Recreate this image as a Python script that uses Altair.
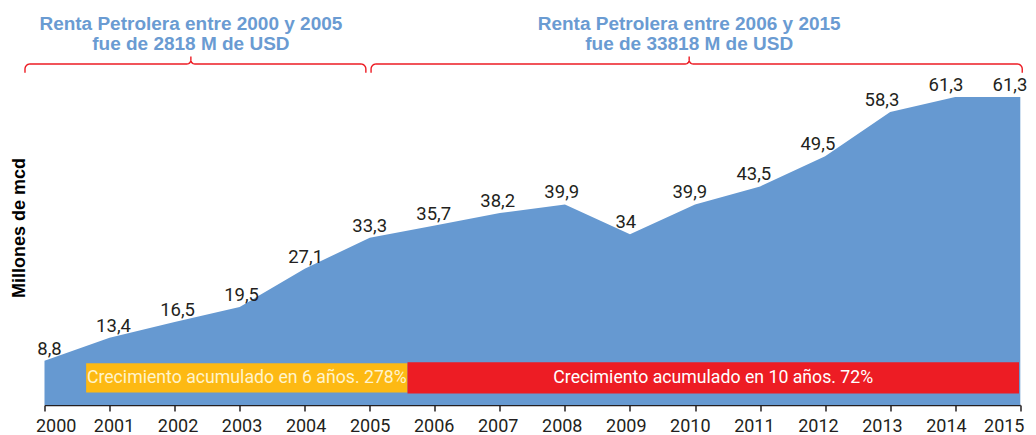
import altair as alt
import pandas as pd
import numpy as np

# ---------------- data ----------------
years = list(range(2000, 2016))
values = [8.8, 13.4, 16.5, 19.5, 27.1, 33.3, 35.7, 38.2, 39.9, 34.0,
          39.9, 43.5, 49.5, 58.3, 61.3, 61.3]
value_labels = ["8,8", "13,4", "16,5", "19,5", "27,1", "33,3", "35,7", "38,2",
                "39,9", "34", "39,9", "43,5", "49,5", "58,3", "61,3", "61,3"]

bar_start = [2000.64, 2005.58]
bar_end = [2005.58, 2014.98]
bar_low = [2.5, 2.3]
bar_high = [8.3, 8.5]
bar_colors = ["#FDB913", "#ED1C24"]
bar_texts = ["Crecimiento acumulado en 6 años. 278%",
             "Crecimiento acumulado en 10 años. 72%"]
bar_text_colors = ["#FFF4CC", "#FFFFFF"]

brace_start = [1999.70, 2005.02]
brace_end = [2004.94, 2015.03]
brace_tip = [2002.25, 2009.91]
brace_level = 67.85
header_texts = ["Renta Petrolera entre 2000 y 2005\nfue de 2818 M de USD",
                "Renta Petrolera entre 2006 y 2015\nfue de 33818 M de USD"]
header_level = 74.6

Y_TITLE = "Millones de mcd"

# ---------------- layout ----------------
W, H = 975.8, 392
XMIN, XMAX = 2000, 2015
YMAX = 78
kx = W / (XMAX - XMIN)   # px per year
ky = H / YMAX            # px per unit

FONT_N = "Roboto, DejaVu Sans Condensed, sans-serif"
FONT_B = "Liberation Sans, Arial, sans-serif"
AREA_BLUE = "#6699D1"
INK = "#231F20"

df = pd.DataFrame({"year": years, "value": values, "label": value_labels})
bars = pd.DataFrame({"x0": bar_start, "x1": bar_end, "y0": bar_low, "y1": bar_high,
                     "fill": bar_colors, "txt": bar_texts, "tcol": bar_text_colors})
bars["xm"] = (bars["x0"] + bars["x1"]) / 2
bars["ym"] = (bars["y0"] + bars["y1"]) / 2
heads = pd.DataFrame({"x": brace_tip, "y": [header_level] * 2, "txt": header_texts})


def brace_path(x0, x1, xm, yl, bid):
    """Curly-brace outline between x0 and x1 with its tip at xm (pixel-sized curls)."""
    r_end, drop, r_tip, rise = 5.0, 8.7, 4.0, 7.5
    pts = []
    X0, X1, XM = (x0 - XMIN) * kx, (x1 - XMIN) * kx, (xm - XMIN) * kx
    pts.append((X0, -drop))
    for t in np.linspace(np.pi, np.pi / 2, 8):
        pts.append((X0 + r_end + r_end * np.cos(t), -r_end + r_end * np.sin(t)))
    for t in np.linspace(-np.pi / 2, 0, 8):
        pts.append((XM - r_tip + r_tip * np.cos(t), r_tip + r_tip * np.sin(t)))
    pts.append((XM, rise))
    for t in np.linspace(np.pi, 1.5 * np.pi, 8):
        pts.append((XM + r_tip + r_tip * np.cos(t), r_tip + r_tip * np.sin(t)))
    for t in np.linspace(np.pi / 2, 0, 8):
        pts.append((X1 - r_end + r_end * np.cos(t), -r_end + r_end * np.sin(t)))
    pts.append((X1, -drop))
    return [{"bx": XMIN + px / kx, "by": yl + py / ky, "bid": bid, "o": i}
            for i, (px, py) in enumerate(pts)]


brace_rows = []
for i in range(len(brace_start)):
    brace_rows += brace_path(brace_start[i], brace_end[i], brace_tip[i], brace_level, i)
braces = pd.DataFrame(brace_rows)

xscale = alt.Scale(domain=[XMIN, XMAX], nice=False, zero=False)
yscale = alt.Scale(domain=[0, YMAX], nice=False, zero=True)
# labels (values and years) sit on a slightly tighter spacing than the vertices/ticks
label_scale = alt.Scale(domain=[1999.922, 2015.161], nice=False, zero=False)

X_AXIS = alt.Axis(values=years, format="d", grid=False, labels=False,
                  domainColor=INK, domainWidth=1.5,
                  tickColor=INK, tickWidth=1.5, tickSize=6)
LABEL_AXIS = alt.Axis(values=years, format="d", grid=False, orient="bottom",
                      domain=False, ticks=False, tickSize=0,
                      labelFont=FONT_N, labelFontSize=18, labelColor=INK,
                      labelPadding=13, labelFlush=12, labelFlushOffset=14)
Y_AXIS = alt.Axis(title=Y_TITLE, labels=False, ticks=False, domain=False, grid=False,
                  titleFont=FONT_B, titleFontSize=18, titleFontWeight="bold",
                  titleColor="#000000", titleAngle=270, titleX=-25, titleY=214.5,
                  titleAlign="center", titleBaseline="middle")


def X(field):
    return alt.X(field, scale=xscale, axis=X_AXIS, title=None)


def Y(field):
    return alt.Y(field, scale=yscale, axis=Y_AXIS, title=Y_TITLE)


area = alt.Chart(df).mark_area(color=AREA_BLUE, interpolate="linear", opacity=1).encode(
    x=X("year:Q"), y=Y("value:Q"),
)

rects = alt.Chart(bars).mark_rect().encode(
    x=X("x0:Q"), x2="x1:Q", y=Y("y0:Q"), y2="y1:Q",
    color=alt.Color("fill:N", scale=None),
)

rect_text = alt.Chart(bars).mark_text(font=FONT_N, fontSize=17.7, align="center",
                                      baseline="middle").encode(
    x=X("xm:Q"), y=Y("ym:Q"), text="txt:N",
    color=alt.Color("tcol:N", scale=None),
)

brace_lines = alt.Chart(braces).mark_line(color="#ED1C24", strokeWidth=1.4).encode(
    x=X("bx:Q"), y=Y("by:Q"), detail="bid:N", order="o:Q",
)

header = alt.Chart(heads).mark_text(font=FONT_B, fontSize=19, fontWeight="bold",
                                    color="#6A9BD2", align="center", baseline="alphabetic",
                                    lineBreak="\n", lineHeight=20).encode(
    x=X("x:Q"), y=Y("y:Q"), text="txt:N",
)

main = alt.layer(area, rects, rect_text, brace_lines, header)

labels = alt.Chart(df).mark_text(font=FONT_N, fontSize=18.5, color=INK, align="center",
                                 baseline="alphabetic", dy=-6).encode(
    x=alt.X("year:Q", scale=label_scale, axis=LABEL_AXIS, title=None),
    y=Y("value:Q"),
    text="label:N",
)

chart = alt.layer(main, labels).resolve_scale(x="independent").properties(
    width=W, height=H,
    autosize=alt.AutoSizeParams(type="none"),
    padding={"left": 36.5, "top": 5, "right": 7.5, "bottom": 30},
).configure_view(stroke=None)

chart.save("out.html", embed_options={"renderer": "svg", "actions": False})
